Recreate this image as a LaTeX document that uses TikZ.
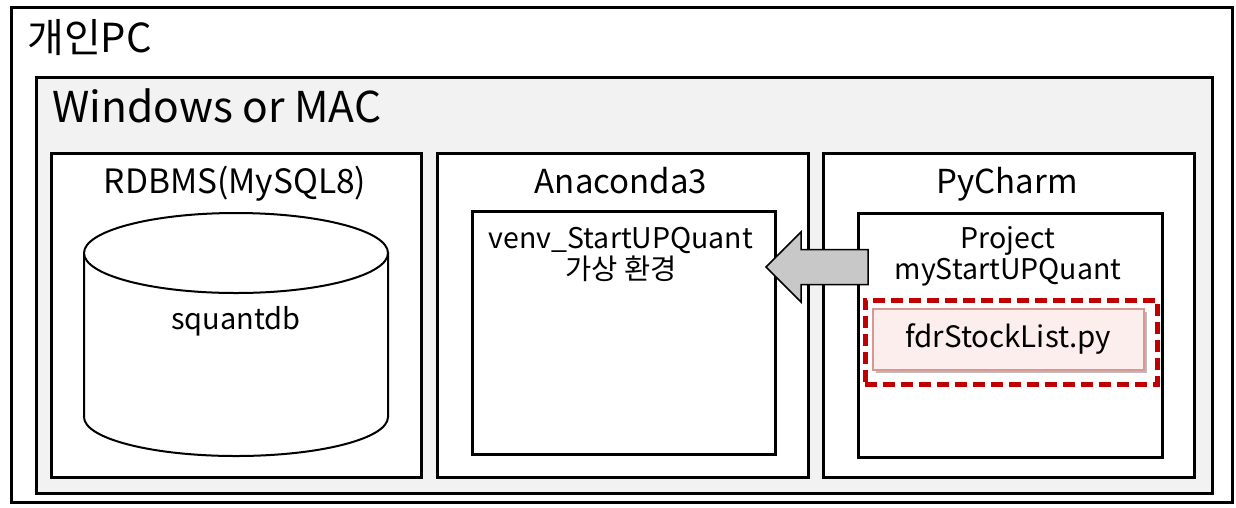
\documentclass[tikz,border=0pt]{standalone}
\usepackage{fontspec}
\setmainfont{Noto Sans CJK KR}
\usetikzlibrary{shadows,calc}
\definecolor{wingray}{HTML}{F2F2F2}
\definecolor{darkred}{HTML}{C00000}
\definecolor{pinkfill}{HTML}{FDEEEE}
\definecolor{pinkline}{HTML}{D99694}
\definecolor{arrowgray}{HTML}{C8C8C8}
\tikzset{
  frame/.style={draw=black, line width=3pt, fill=white, anchor=north west, inner sep=0pt},
  title/.style={font=\fontsize{#1}{#1}\selectfont, inner sep=0pt},
  cylline/.style={draw=black, line width=2pt},
}
\begin{document}
\begin{tikzpicture}[x=1pt,y=-1pt]
\useasboundingbox (0,0) rectangle (1236,507);
\fill[white] (0,0) rectangle (1236,507);
% outer
\node[frame, minimum width=1221pt, minimum height=495pt] (pc) at (10,6) {};
\node[title=40, anchor=base west] (pct) at (27,52) {개인PC};
% windows
\node[frame, fill=wingray, minimum width=1176pt, minimum height=416pt] (win) at (35,76) {};
\node[title=42.5, anchor=base west] (wint) at (52,122) {Windows or MAC};
% three columns
\node[frame, minimum width=370pt, minimum height=324pt] (rdb) at (50,152) {};
\node[frame, minimum width=371pt, minimum height=324pt] (ana) at (436,152) {};
\node[frame, minimum width=371pt, minimum height=324pt] (pyc) at (822,152) {};
\node[title=33.5, anchor=base] (rdbt) at (235,193) {RDBMS(MySQL8)};
\node[title=33, anchor=base] (anat) at (621,193) {Anaconda3};
\node[title=33, anchor=base] (pyct) at (1007,193) {PyCharm};
% cylinder
\path[cylline, fill=white] (84,253) -- (84,417) arc[start angle=180, end angle=0, x radius=152, y radius=39] -- (388,253) -- cycle;
\draw[cylline, fill=white] (236,253) ellipse[x radius=152, y radius=40];
\node[title=29, anchor=base] (dbt) at (236,329) {squantdb};
% venv
\node[frame, minimum width=303pt, minimum height=243pt] (venv) at (471,210) {};
\node[title=28.5, anchor=base] (venvt) at (621,248) {venv\_StartUPQuant};
\node[title=28.5, anchor=base] (venvk) at (621,279) {가상 환경};
% project
\node[frame, minimum width=304pt, minimum height=244pt] (proj) at (857,212) {};
\node[title=28.5, anchor=base] (projt) at (1008,248) {Project};
\node[title=28.5, anchor=base] (projn) at (1008,279) {myStartUPQuant};
% red dashed
\node[draw=darkred, line width=4.5pt, dash pattern=on 12pt off 6pt, anchor=north west,
  minimum width=292pt, minimum height=84pt, inner sep=0pt] (sel) at (863,298) {};
\node[draw=pinkline, line width=1.5pt, fill=pinkfill, anchor=north west,
  minimum width=271pt, minimum height=61pt, inner sep=0pt,
  drop shadow={shadow xshift=3pt, shadow yshift=-3pt, opacity=0.45, fill=black!60}] (file) at (872,308) {};
\node[title=29.5, anchor=center] (filet) at (file.center) {fdrStockList.py};
% arrow
\coordinate (tip) at ($(venv.north east)+(-11,57)$);
\coordinate (tail) at ($(proj.north west)+(11,55)$);
\draw[line width=1.5pt, fill=arrowgray, line join=miter]
  ($(tail)+(0,-17.5)$) -- ($(tip)+(35,-17.5)$) -- ($(tip)+(35,-35)$) -- (tip)
  -- ($(tip)+(35,35)$) -- ($(tip)+(35,17.5)$) -- ($(tail)+(0,17.5)$) -- cycle;
\end{tikzpicture}
\end{document}
